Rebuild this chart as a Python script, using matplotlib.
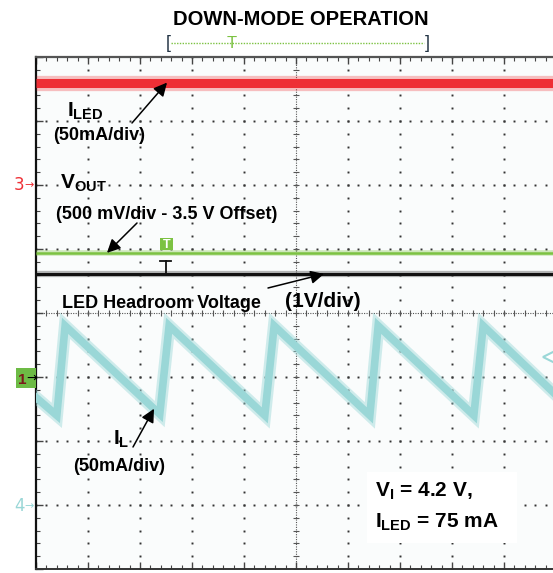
import numpy as np
import matplotlib
matplotlib.use("Agg")
import matplotlib.pyplot as plt
from matplotlib.patches import Rectangle

plt.rcParams["font.family"] = ["Liberation Sans", "DejaVu Sans"]
plt.rcParams["mathtext.fontset"] = "custom"
plt.rcParams["mathtext.rm"] = "Liberation Sans:bold"
plt.rcParams["mathtext.bf"] = "Liberation Sans:bold"
plt.rcParams["mathtext.it"] = "Liberation Sans:bold"

# scope channel settings: reference marker (div), units per division
CH1_REF, CH1_SCALE, CH1_OFFSET = -1.0, 0.5, 3.5   # V_OUT in V
CH2_REF, CH2_SCALE = 0.0, 1.0                     # LED headroom in V
CH3_REF, CH3_SCALE = 2.0, 50.0                    # I_LED in mA
CH4_REF, CH4_SCALE = -3.0, 50.0                   # I_L in mA

# time in screen divisions (0..10)
led_time = [0.0, 10.0]
led_current = [80, 80]
vout_time = [0.0, 10.0]
vout_level = [4.47, 4.47]
headroom_time = [0.0, 10.0]
headroom_level = [0.61, 0.61]
il_time = [0.0, 0.40, 0.56, 2.38, 2.56, 4.40, 4.58, 6.42, 6.58, 8.42, 8.60, 10.0]
il_current = [84, 70, 140, 71, 140, 70, 140, 70, 140, 70, 140, 86]

RED = "#ee2f35"
GREEN = "#7cc242"
CYAN = "#9ad7d7"
INK = "#111111"

W, H = 553, 573
fig = plt.figure(figsize=(W / 100, H / 100), dpi=100)
fig.patch.set_facecolor("white")

# scope screen: 10 x 8 divisions, left edge at x=36px, top at y=57px
ax = fig.add_axes([36 / W, (H - 569) / H, 520 / W, 512 / H])
ax.set_xlim(0, 10)
ax.set_ylim(-4, 4)
ax.set_facecolor("#fafcfc")

# dotted graticule
minor_x = np.arange(0, 10.001, 0.2)
minor_y = np.arange(-4, 4.001, 0.2)
for gx in range(1, 10):
    if gx == 5:
        continue
    ax.plot(np.full_like(minor_y, gx), minor_y, ls="none", marker="s",
            ms=1.4, mew=0, color="#333333", zorder=1)
for gy in range(-3, 4):
    if gy == 0:
        continue
    ax.plot(minor_x, np.full_like(minor_x, gy), ls="none", marker="s",
            ms=1.4, mew=0, color="#333333", zorder=1)
# centre lines with tick marks
ax.axvline(5, ls=(0, (1, 1.2)), lw=0.8, color="#555555", zorder=1)
ax.axhline(0, ls=(0, (1, 1.2)), lw=0.8, color="#555555", zorder=1)
ax.plot(np.full_like(minor_y, 5), minor_y, ls="none", marker="_", ms=4,
        mew=0.8, color="#555555", zorder=1)
ax.plot(minor_x, np.zeros_like(minor_x), ls="none", marker="|", ms=4,
        mew=0.8, color="#555555", zorder=1)

ax.set_xticks(range(0, 11))
ax.set_yticks(range(-4, 5))
ax.set_xticks(minor_x, minor=True)
ax.set_yticks(minor_y, minor=True)
ax.tick_params(which="both", direction="in", labelleft=False, labelbottom=False,
               top=True, right=False, color="#444444")
ax.tick_params(which="major", length=5, width=1)
ax.tick_params(which="minor", length=3, width=0.8)
ax.spines["left"].set_linewidth(1.6)
ax.spines["left"].set_color("#111111")
ax.spines["top"].set_linewidth(1.6)
ax.spines["top"].set_color("#555555")
ax.spines["bottom"].set_linewidth(1.4)
ax.spines["bottom"].set_color("#333333")
ax.spines["right"].set_visible(False)

# traces
led_y = CH3_REF + np.array(led_current) / CH3_SCALE
vout_y = CH1_REF + (np.array(vout_level) - CH1_OFFSET) / CH1_SCALE
head_y = CH2_REF + np.array(headroom_level) / CH2_SCALE
il_y = CH4_REF + np.array(il_current) / CH4_SCALE

ax.plot(led_time, led_y, color=RED, lw=11, alpha=0.3, solid_capstyle="butt", zorder=3)
ax.plot(led_time, led_y, color=RED, lw=6.5, solid_capstyle="butt", zorder=4)
ax.plot(vout_time, vout_y, color=GREEN, lw=4, alpha=0.35, solid_capstyle="butt", zorder=3)
ax.plot(vout_time, vout_y, color=GREEN, lw=1.8, solid_capstyle="butt", zorder=4)
ax.plot(headroom_time, head_y, color=INK, lw=4.5, alpha=0.3, solid_capstyle="butt", zorder=3)
ax.plot(headroom_time, head_y, color=INK, lw=2.2, solid_capstyle="butt", zorder=4)
ax.plot(il_time, il_y, color=CYAN, lw=9, alpha=0.45, solid_joinstyle="miter", zorder=3)
ax.plot(il_time, il_y, color=CYAN, lw=5.5, solid_joinstyle="miter", zorder=4)

# overlay in pixel coordinates for labels and markers
ov = fig.add_axes([0, 0, 1, 1], facecolor="none")
ov.set_xlim(0, W)
ov.set_ylim(H, 0)
ov.axis("off")


def label(x, y, s, size, **kw):
    ov.text(x, y, s, fontsize=size, fontweight="bold", va="baseline",
            ha="left", color="black", **kw)


def arrow(x0, y0, tx, ty):
    ov.annotate("", xy=(tx, ty), xycoords=ax.transData, xytext=(x0, y0),
                textcoords="data",
                arrowprops=dict(arrowstyle="-|>", color="black", lw=1.1,
                                mutation_scale=20, shrinkA=0, shrinkB=0))


ov.text(301, 25, "DOWN-MODE OPERATION", fontsize=14.5, fontweight="bold",
        ha="center", va="baseline")

# trigger position bar
ov.plot([171, 424], [43, 43], ls=(0, (1, 1)), lw=1, color=GREEN)
ov.text(168, 44, "[", fontsize=13, color="#223344", ha="center", va="center")
ov.text(427, 44, "]", fontsize=13, color="#223344", ha="center", va="center")
ov.text(232, 43, "T", fontsize=12, color=GREEN, ha="center", va="center")

# channel markers
ov.text(14, 190, "3", fontsize=12, color=RED, va="baseline", family="DejaVu Sans")
ov.text(24, 185, "\u2192", fontsize=8, color=RED, va="center", family="DejaVu Sans")
ov.text(14, 511, "4", fontsize=12, color=CYAN, va="baseline", family="DejaVu Sans")
ov.text(24, 506, "\u2192", fontsize=8, color=CYAN, va="center", family="DejaVu Sans")
ov.add_patch(Rectangle((16, 368), 20, 20, facecolor="#6dbb45", edgecolor="none"))
ov.text(18, 384, "1", fontsize=11, color="#7a1a1a", va="baseline", fontweight="bold")
ov.text(26, 378, "\u2192", fontsize=9, color="black", va="center", family="DejaVu Sans")
ov.plot([549], [357], marker="<", ms=8, mfc="white", mec=CYAN, mew=1.5)

# trigger marks on the traces
ov.add_patch(Rectangle((160, 238), 13, 12, facecolor=GREEN, edgecolor="none", zorder=5))
ov.text(166.5, 244.5, "T", fontsize=9, color="white", ha="center", va="center",
        fontweight="bold", zorder=6)
ov.plot([160, 171], [261, 261], color=INK, lw=1.3)
ov.plot([165.5, 165.5], [261, 273], color=INK, lw=1.3)

# annotations
label(67, 117, r"$\mathbf{I_{LED}}$", 15)
label(53, 140, "(50mA/div)", 13)
arrow(132, 123, (167 - 36) / 52, led_y[0])

label(60, 189, r"$\mathbf{V_{OUT}}$", 15)
label(56, 219, "(500 mV/div - 3.5 V Offset)", 13)
arrow(137, 223, (107 - 36) / 52, vout_y[0])

label(62, 308, "LED Headroom Voltage", 13)
label(285, 307, "(1V/div)", 15)
arrow(268, 288, (324 - 36) / 52, head_y[0])

label(113, 445, r"$\mathbf{I_{L}}$", 15)
label(73, 471, "(50mA/div)", 13)
t_head = (154 - 36) / 52
arrow(133, 447, t_head, np.interp(t_head, il_time, il_y))

ov.add_patch(Rectangle((367, 472), 150, 71, facecolor="white", edgecolor="none", zorder=2))
label(375, 497, r"$\mathbf{V_{I}}$ = 4.2 V,", 15, zorder=3)
label(375, 528, r"$\mathbf{I_{LED}}$ = 75 mA", 15, zorder=3)

fig.savefig("out.png", dpi=100)
